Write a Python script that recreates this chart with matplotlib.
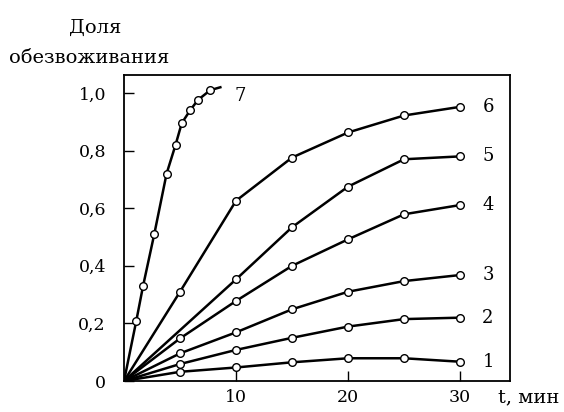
import matplotlib
matplotlib.use("Agg")
from matplotlib import pyplot as plt
from matplotlib.ticker import FixedLocator, FixedFormatter

plt.rcParams["font.family"] = ["DejaVu Serif"]

# Данные: время, мин и доля обезвоживания для кривых 1-7
t = [0, 5, 10, 15, 20, 25, 30]
c1 = [0, 0.032, 0.047, 0.065, 0.079, 0.079, 0.067]
c2 = [0, 0.059, 0.108, 0.150, 0.189, 0.215, 0.220]
c3 = [0, 0.096, 0.169, 0.249, 0.310, 0.347, 0.368]
c4 = [0, 0.148, 0.278, 0.400, 0.492, 0.579, 0.611]
t5 = [0, 10, 15, 20, 25, 30]
c5 = [0, 0.353, 0.534, 0.675, 0.770, 0.780]
c6 = [0, 0.310, 0.626, 0.776, 0.863, 0.922, 0.952]
t7 = [0, 1.1, 1.7, 2.7, 3.8, 4.6, 5.15, 5.9, 6.6, 7.7, 8.6]
c7 = [0, 0.21, 0.33, 0.51, 0.72, 0.82, 0.895, 0.94, 0.976, 1.01, 1.02]

y_ticks = [0, 0.2, 0.4, 0.6, 0.8, 1.0]
y_labels = ["0", "0,2", "0,4", "0,6", "0,8", "1,0"]
x_ticks = [10, 20, 30]
x_labels = ["10", "20", "30"]

fig = plt.figure(figsize=(5.64, 4.12), dpi=100)
ax = fig.add_axes([0.2199, 0.0752, 0.6844, 0.7427])

style = dict(color="black", lw=1.8, marker="o", ms=5.5,
             mfc="white", mec="black", mew=1.0)

curves = [
    (t, c1, "1"),
    (t, c2, "2"),
    (t, c3, "3"),
    (t, c4, "4"),
    (t5, c5, "5"),
    (t, c6, "6"),
]
for xs, ys, name in curves:
    ax.plot(xs, ys, markevery=slice(1, None), **style)
    ax.annotate(name, (xs[-1], ys[-1]), xytext=(16, 0),
                textcoords="offset points", fontsize=13,
                va="center", ha="left")

ax.plot(t7, c7, markevery=slice(1, -1), **style)
ax.annotate("7", (t7[-1], c7[-1]), xytext=(10, -6),
            textcoords="offset points", fontsize=13,
            va="center", ha="left")

ax.set_xlim(0, 34.46)
ax.set_ylim(0, 1.0625)

ax.xaxis.set_major_locator(FixedLocator(x_ticks))
ax.xaxis.set_major_formatter(FixedFormatter(x_labels))
ax.yaxis.set_major_locator(FixedLocator(y_ticks))
ax.yaxis.set_major_formatter(FixedFormatter(y_labels))
ax.tick_params(axis="both", direction="in", length=7, width=1.0,
               labelsize=12.5)
ax.tick_params(axis="y", pad=13)
ax.tick_params(axis="x", pad=6)
for sp in ax.spines.values():
    sp.set_linewidth(1.3)

fig.text(95 / 564, 1 - 28 / 412, "Доля", fontsize=14,
         ha="center", va="center")
fig.text(89 / 564, 1 - 58 / 412, "обезвоживания", fontsize=14,
         ha="center", va="center")
fig.text(529 / 564, 1 - 397 / 412, "t, мин", fontsize=14,
         ha="center", va="center")

fig.savefig("out.png", dpi=100)
